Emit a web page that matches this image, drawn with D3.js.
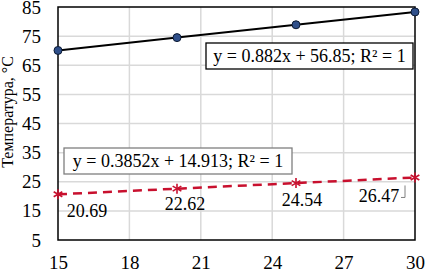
<!DOCTYPE html>
<html>
<head>
    <script src="https://d3js.org/d3.v7.min.js"></script>
    <style>
        body { margin: 0; background: #fff; }
        svg text { font-family: "Liberation Serif", "DejaVu Serif", serif; }
    </style>
</head>
<body>
    <svg width="425" height="270"></svg>
    <script>
        var xs = [15, 20, 25, 30];
        var upper = [70.08, 74.49, 78.9, 83.31];
        var lower = [20.69, 22.62, 24.54, 26.47];
        var xTicks = [15, 18, 21, 24, 27, 30];
        var yTicks = [5, 15, 25, 35, 45, 55, 65, 75, 85];
        var upperEq = "y = 0.882x + 56.85; R² = 1";
        var lowerEq = "y = 0.3852x + 14.913; R² = 1";

        var svg = d3.select("svg");
        var pLeft = 58, pRight = 415, pTop = 7, pBottom = 240;

        var x = d3.scaleLinear().domain([15, 30]).range([pLeft, pRight]);
        var y = d3.scaleLinear().domain([5, 85]).range([pBottom, pTop]);

        // grid
        svg.append("g").selectAll("line").data(yTicks.slice(1, -1)).enter().append("line")
            .attr("x1", pLeft).attr("x2", pRight)
            .attr("y1", function (d) { return y(d); }).attr("y2", function (d) { return y(d); })
            .attr("stroke", "#d9d9d9").attr("stroke-width", 1.5);
        svg.append("g").selectAll("line").data(xTicks.slice(1, -1)).enter().append("line")
            .attr("y1", pTop).attr("y2", pBottom)
            .attr("x1", function (d) { return x(d); }).attr("x2", function (d) { return x(d); })
            .attr("stroke", "#d9d9d9").attr("stroke-width", 1.5);

        svg.append("rect").attr("x", pLeft).attr("y", pTop)
            .attr("width", pRight - pLeft).attr("height", pBottom - pTop)
            .attr("fill", "none").attr("stroke", "#000").attr("stroke-width", 1.5);

        // axes
        var yAxis = svg.append("g").attr("transform", "translate(" + pLeft + ",0)")
            .call(d3.axisLeft(y).tickValues(yTicks).tickSize(0).tickPadding(17));
        var xAxis = svg.append("g").attr("transform", "translate(0," + pBottom + ")")
            .call(d3.axisBottom(x).tickValues(xTicks).tickSize(0).tickPadding(16));
        [yAxis, xAxis].forEach(function (a) {
            a.attr("font-family", null).attr("font-size", null);
            a.select(".domain").remove();
            a.selectAll("text").attr("font-size", 19).attr("fill", "#000");
        });

        svg.append("text")
            .attr("transform", "translate(13,112) rotate(-90)")
            .attr("text-anchor", "middle")
            .attr("font-size", 16)
            .text("Температура, °C");

        // upper series
        var line = d3.line().x(function (d, i) { return x(xs[i]); }).y(function (d) { return y(d); });
        svg.append("path").datum(upper).attr("d", line)
            .attr("fill", "none").attr("stroke", "#000").attr("stroke-width", 2);
        svg.append("g").selectAll("circle").data(upper).enter().append("circle")
            .attr("cx", function (d, i) { return x(xs[i]); })
            .attr("cy", function (d) { return y(d); })
            .attr("r", 4).attr("fill", "#2f4f8a").attr("stroke", "#0c1a33").attr("stroke-width", 1);

        // lower series
        svg.append("path").datum(lower).attr("d", line)
            .attr("fill", "none").attr("stroke", "#c8102e").attr("stroke-width", 2.5)
            .attr("stroke-dasharray", "9,6");
        var stars = svg.append("g").selectAll("g").data(lower).enter().append("g")
            .attr("transform", function (d, i) { return "translate(" + x(xs[i]) + "," + y(d) + ")"; });
        [0, 60, 120].forEach(function (a) {
            stars.append("line").attr("x1", -5).attr("x2", 5).attr("y1", 0).attr("y2", 0)
                .attr("transform", "rotate(" + (a + 90) + ")")
                .attr("stroke", "#c8102e").attr("stroke-width", 1.6);
        });

        var labelDx = [29, 8, 6, -36];
        var labelDy = [23, 21, 23, 25];
        svg.append("g").selectAll("text").data(lower).enter().append("text")
            .attr("x", function (d, i) { return x(xs[i]) + labelDx[i]; })
            .attr("y", function (d) { return y(d); })
            .attr("dy", function (d, i) { return labelDy[i]; })
            .attr("text-anchor", "middle")
            .attr("font-size", 18)
            .text(function (d) { return d.toFixed(2); });
        // leader line for last label
        var lx = x(xs[3]), ly = y(lower[3]);
        svg.append("path")
            .attr("d", "M" + (lx - 14) + "," + (ly + 20) + "H" + (lx - 10) + "V" + (ly + 8))
            .attr("fill", "none").attr("stroke", "#808080").attr("stroke-width", 1);

        // equation boxes
        function eqBox(tx, ty, w, h, str, stroke) {
            svg.append("rect").attr("x", tx).attr("y", ty).attr("width", w).attr("height", h)
                .attr("fill", "#fff").attr("stroke", stroke).attr("stroke-width", 1.3);
            svg.append("text").attr("x", tx + w / 2).attr("y", ty + h / 2 + 6)
                .attr("text-anchor", "middle").attr("font-size", 18).text(str);
        }
        eqBox(206, 43, 207, 26, upperEq, "#000");
        eqBox(64, 148, 228, 26, lowerEq, "#7f7f7f");
    </script>
</body>
</html>
